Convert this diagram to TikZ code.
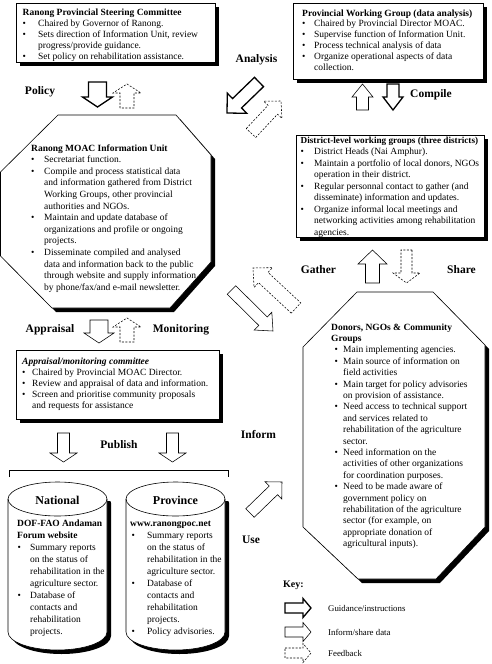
\documentclass[tikz,border=0pt]{standalone}
\usepackage{fontspec}
\setmainfont{Liberation Serif}
\usetikzlibrary{calc,shadows}
\newlength\bw
\newlength\bi
\setlength\bi{0pt}
\newcommand\bl[1]{\hspace*{\bi}\makebox[\bw][l]{\textbullet}#1}
\newcommand\cl[1]{\hspace*{\bi}\hspace*{\bw}#1}
\newcommand\blockarrow[6]{%
  \coordinate (bab) at ($(#3)!#6!(#2)$);
  \draw[#1] ($(#2)!#4!90:(#3)$) -- ($(bab)!#4!90:(#3)$) -- ($(bab)!#5!90:(#3)$) -- (#3)
    -- ($(bab)!#5!-90:(#3)$) -- ($(bab)!#4!-90:(#3)$) -- ($(#2)!#4!-90:(#3)$) -- cycle;}
\begin{document}
\begin{tikzpicture}[x=1pt,y=-1pt,
  sbox/.style={draw, fill=white, line width=0.6pt, anchor=north west, inner sep=0pt,
    drop shadow={shadow xshift=3.5pt, shadow yshift=-3.5pt, opacity=1, fill=black}},
  txt/.style={anchor=base west, inner sep=0pt},
  lab/.style={inner sep=0pt, font=\fontsize{11.5}{13}\selectfont\bfseries},
  guid/.style={line width=1.3pt, fill=white, line join=miter},
  info/.style={line width=0.55pt, fill=white},
  feed/.style={line width=0.55pt, dash pattern=on 2pt off 1.5pt, fill=white},
  outl/.style={draw, fill=white, line width=0.6pt}]
\useasboundingbox (0,0) rectangle (491,664);

% ---------------- Steering committee
\node[sbox, minimum width=199pt, minimum height=59pt] (steer) at (16,3) {};
\node[txt] (steert) at (22.5,15.7) {\setlength\bw{15.5pt}\fontsize{9.5}{11}\selectfont
\begin{tabular}[t]{@{}l@{}}
\textbf{Ranong Provincial Steering Committee}\\
\bl{Chaired by Governor of Ranong.}\\
\bl{Sets direction of Information Unit, review}\\
\cl{progress/provide guidance.}\\
\bl{Set policy on rehabilitation assistance.}
\end{tabular}};

% ---------------- Provincial working group
\node[sbox, minimum width=190pt, minimum height=76pt] (pwg) at (293,3) {};
\node[txt] (pwgt) at (302,16) {\setlength\bw{12pt}\fontsize{9.5}{10.8}\selectfont
\begin{tabular}[t]{@{}l@{}}
\textbf{Provincial Working Group (data analysis)}\\
\bl{Chaired by Provincial Director MOAC.}\\
\bl{Supervise function of Information Unit.}\\
\bl{Process technical analysis of data}\\
\bl{Organize operational aspects of data}\\
\cl{collection.}
\end{tabular}};

% ---------------- District working groups
\node[sbox, minimum width=188pt, minimum height=102pt] (dist) at (296,135) {};
\node[txt] (distt) at (300.5,143) {\setlength\bw{13.5pt}\fontsize{9.5}{11.5}\selectfont
\begin{tabular}[t]{@{}l@{}}
{\fontsize{9.2}{11.5}\selectfont\textbf{District-level working groups (three districts)}}\\
\bl{District Heads (Nai Amphur).}\\
\bl{Maintain a portfolio of local donors, NGOs}\\
\cl{operation in their district.}\\
\bl{Regular personnal contact to gather (and}\\
\cl{disseminate) information and updates.}\\
\bl{Organize informal local meetings and}\\
\cl{networking activities among rehabilitation}\\
\cl{agencies.}
\end{tabular}};

% ---------------- MOAC octagon
\begin{scope}[shift={(4,4)}]
\fill[black] (58,115) -- (176,115) -- (211,155) -- (211,262) -- (170,308) -- (52,308) -- (0.5,256) -- (0.5,172) -- cycle;
\end{scope}
\draw[outl] (58,115) -- (176,115) -- (211,155) -- (211,262) -- (170,308) -- (52,308) -- (0.5,256) -- (0.5,172) -- cycle;
\node[txt] (moact) at (31,151) {\setlength\bw{13pt}\fontsize{9.5}{11.6}\selectfont
\begin{tabular}[t]{@{}l@{}}
\textbf{Ranong MOAC Information Unit}\\
\bl{Secretariat function.}\\
\bl{Compile and process statistical data}\\
\cl{and information gathered from District}\\
\cl{Working Groups, other provincial}\\
\cl{authorities and NGOs.}\\
\bl{Maintain and update database of}\\
\cl{organizations and profile or ongoing}\\
\cl{projects.}\\
\bl{Disseminate compiled and analysed}\\
\cl{data and information back to the public}\\
\cl{through website and supply information}\\
\cl{by phone/fax/and e-mail newsletter.}
\end{tabular}};

% ---------------- Appraisal committee
\node[sbox, minimum width=203pt, minimum height=69pt] (appr) at (16,350) {};
\node[txt] (apprt) at (22,364) {\setlength\bw{10pt}\fontsize{9.5}{11}\selectfont
\begin{tabular}[t]{@{}l@{}}
\textbf{\textit{Appraisal/monitoring committee}}\\
\bl{Chaired by Provincial MOAC Director.}\\
\bl{Review and appraisal of data and information.}\\
\bl{Screen and prioritise community proposals}\\
\cl{and requests for assistance}
\end{tabular}};

% ---------------- Donors octagon
\begin{scope}[shift={(4,4)}]
\fill[black] (357,292) -- (433,292) -- (485,345) -- (485,527) -- (436,579) -- (358,579) -- (303,527) -- (303,347) -- cycle;
\end{scope}
\draw[outl] (357,292) -- (433,292) -- (485,345) -- (485,527) -- (436,579) -- (358,579) -- (303,527) -- (303,347) -- cycle;
\node[txt] (donort) at (331,330) {\setlength\bi{3.5pt}\setlength\bw{8.5pt}\fontsize{9.5}{11.4}\selectfont
\begin{tabular}[t]{@{}l@{}}
\textbf{Donors, NGOs \& Community}\\
\textbf{Groups}\\
\bl{Main implementing agencies.}\\
\bl{Main source of information on}\\
\cl{field activities}\\
\bl{Main target for policy advisories}\\
\cl{on provision of assistance.}\\
\bl{Need access to technical support}\\
\cl{and services related to}\\
\cl{rehabilitation of the agriculture}\\
\cl{sector.}\\
\bl{Need information on the}\\
\cl{activities of other organizations}\\
\cl{for coordination purposes.}\\
\bl{Need to be made aware of}\\
\cl{government policy on}\\
\cl{rehabilitation of the agriculture}\\
\cl{sector (for example, on}\\
\cl{appropriate donation of}\\
\cl{agricultural inputs).}
\end{tabular}};

% ---------------- Bracket
\draw[line width=0.6pt] (9,477) -- (9,470) -- (228,470) -- (228,477);

% ---------------- Cylinders
\begin{scope}
\clip (0,501) rectangle (491,664);
\fill[black] (12,503) -- (12,636) arc[start angle=180,end angle=360,x radius=49.5pt,y radius=18pt] -- (111,503) arc[start angle=0,end angle=180,x radius=49.5pt,y radius=17pt] -- cycle;
\fill[black] (130,503) -- (130,636) arc[start angle=180,end angle=360,x radius=49.5pt,y radius=18pt] -- (229,503) arc[start angle=0,end angle=180,x radius=49.5pt,y radius=17pt] -- cycle;
\end{scope}
\draw[outl] (8,499) -- (8,632) arc[start angle=180,end angle=360,x radius=49.5pt,y radius=18pt] -- (107,499) arc[start angle=0,end angle=180,x radius=49.5pt,y radius=17pt] -- cycle;
\draw[line width=0.6pt] (107,499) arc[start angle=0,end angle=-180,x radius=49.5pt,y radius=17pt];
\draw[outl] (126,499) -- (126,632) arc[start angle=180,end angle=360,x radius=49.5pt,y radius=18pt] -- (225,499) arc[start angle=0,end angle=180,x radius=49.5pt,y radius=17pt] -- cycle;
\draw[line width=0.6pt] (225,499) arc[start angle=0,end angle=-180,x radius=49.5pt,y radius=17pt];

\node[inner sep=0pt, font=\fontsize{12}{14}\selectfont\bfseries] (natl) at (57.5,500) {National};
\node[inner sep=0pt, font=\fontsize{12}{14}\selectfont\bfseries] (prov) at (175.5,500) {Province};

\node[txt] (natt) at (17,526) {\setlength\bi{0.5pt}\setlength\bw{12.5pt}\fontsize{9.5}{12}\selectfont
\begin{tabular}[t]{@{}l@{}}
\textbf{DOF-FAO Andaman}\\
\textbf{Forum website}\\
\bl{Summary reports}\\
\cl{on the status of}\\
\cl{rehabilitation in the}\\
\cl{agriculture sector.}\\
\bl{Database of}\\
\cl{contacts and}\\
\cl{rehabilitation}\\
\cl{projects.}
\end{tabular}};
\node[txt] (provt) at (130,526) {\setlength\bi{1.5pt}\setlength\bw{15.5pt}\fontsize{9.5}{12}\selectfont
\begin{tabular}[t]{@{}l@{}}
\textbf{www.ranongpoc.net}\\
\bl{Summary reports}\\
\cl{on the status of}\\
\cl{rehabilitation in the}\\
\cl{agriculture sector.}\\
\bl{Database of}\\
\cl{contacts and}\\
\cl{rehabilitation}\\
\cl{projects.}\\
\bl{Policy advisories.}
\end{tabular}};

% ---------------- Labels
\node[lab] (lpolicy) at (40,92) {Policy};
\node[lab] (lanalysis) at (256.5,60) {Analysis};
\node[lab] (lcompile) at (431,95) {Compile};
\node[lab] (lgather) at (318.5,270) {Gather};
\node[lab] (lshare) at (461.5,270) {Share};
\node[lab] (lappraisal) at (50,330) {Appraisal};
\node[lab] (lmonitor) at (181,330) {Monitoring};
\node[lab] (lpublish) at (119,445) {Publish};
\node[lab] (linform) at (258.5,435) {Inform};
\node[lab] (luse) at (251,540) {Use};

% ---------------- Block arrows
\coordinate (polT) at (97.5,82);   \coordinate (polH) at (97.5,107);
\coordinate (polfT) at (127,108);  \coordinate (polfH) at (127,84);
\coordinate (anaT) at (259,82);    \coordinate (anaH) at (227,113);
\coordinate (anafT) at (251,133);  \coordinate (anafH) at (281,101);
\coordinate (comuT) at (362.5,110);\coordinate (comuH) at (362.5,84);
\coordinate (comdT) at (393,84);   \coordinate (comdH) at (393,110);
\coordinate (gauT) at (372.5,283); \coordinate (gauH) at (372.5,250);
\coordinate (shdT) at (406.5,250); \coordinate (shdH) at (406.5,283);
\coordinate (gafT) at (296,308);   \coordinate (gafH) at (253,268);
\coordinate (monT) at (231.5,290); \coordinate (monH) at (273,331);
\coordinate (appT) at (99,320);    \coordinate (appH) at (99,343);
\coordinate (monfT) at (127,342);  \coordinate (monfH) at (127,318);
\coordinate (pubaT) at (63.5,433); \coordinate (pubaH) at (63.5,462);
\coordinate (pubbT) at (172.5,433);\coordinate (pubbH) at (172.5,462);
\coordinate (useT) at (250,513);   \coordinate (useH) at (282,482);

\blockarrow{guid}{polT}{polH}{9pt}{15pt}{10pt}
\blockarrow{feed}{polfT}{polfH}{7pt}{14pt}{9pt}
\blockarrow{guid}{anaT}{anaH}{6.5pt}{14pt}{14pt}
\blockarrow{feed}{anafT}{anafH}{6.5pt}{12.5pt}{12pt}
\blockarrow{info}{comuT}{comuH}{6pt}{10.5pt}{13pt}
\blockarrow{guid}{comdT}{comdH}{6pt}{10pt}{13pt}
\blockarrow{info}{gauT}{gauH}{7pt}{14.5pt}{14pt}
\blockarrow{feed}{shdT}{shdH}{5.5pt}{13.5pt}{10pt}
\blockarrow{feed}{gafT}{gafH}{7pt}{13.5pt}{14pt}
\blockarrow{info}{monT}{monH}{6pt}{12.5pt}{14pt}
\blockarrow{info}{appT}{appH}{9pt}{15pt}{10pt}
\blockarrow{feed}{monfT}{monfH}{7pt}{14pt}{9pt}
\blockarrow{info}{pubaT}{pubaH}{6pt}{13.5pt}{9pt}
\blockarrow{info}{pubbT}{pubbH}{6pt}{13.5pt}{9pt}
\blockarrow{info}{useT}{useH}{6pt}{12pt}{12pt}

% ---------------- Key
\node[anchor=west, inner sep=0pt, font=\fontsize{10}{12}\selectfont\bfseries] (key) at (283,585) {Key:};
\coordinate (k1T) at (285,608); \coordinate (k1H) at (311,608);
\coordinate (k2T) at (285,632); \coordinate (k2H) at (311,632);
\coordinate (k3T) at (285,653); \coordinate (k3H) at (311,653);
\blockarrow{guid}{k1T}{k1H}{5pt}{9.5pt}{8pt}
\blockarrow{info}{k2T}{k2H}{5pt}{9.5pt}{8pt}
\blockarrow{feed}{k3T}{k3H}{5pt}{9.5pt}{8pt}
\node[anchor=west, inner sep=0pt, font=\fontsize{8.8}{10}\selectfont] (k1) at (328,608) {Guidance/instructions};
\node[anchor=west, inner sep=0pt, font=\fontsize{8.8}{10}\selectfont] (k2) at (328,632) {Inform/share data};
\node[anchor=west, inner sep=0pt, font=\fontsize{8.8}{10}\selectfont] (k3) at (328,653) {Feedback};
\end{tikzpicture}
\end{document}
